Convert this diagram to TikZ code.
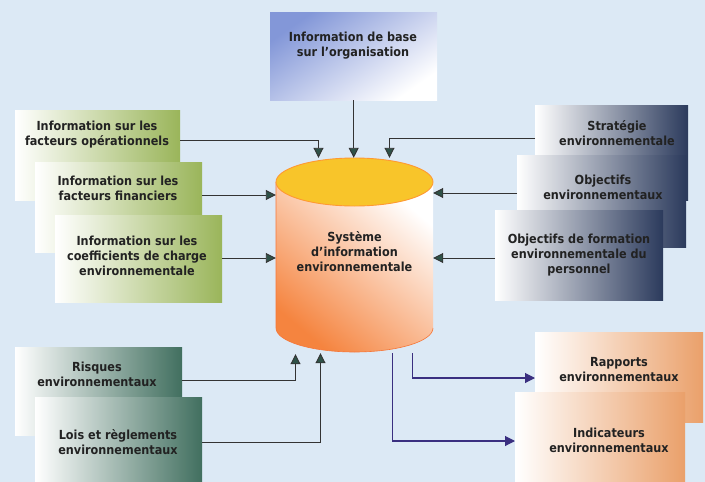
\documentclass[tikz,border=0pt]{standalone}
\usepackage{fontspec}
\setmainfont{DejaVu Sans Condensed}
\usetikzlibrary{arrows.meta,calc}
\definecolor{bgc}{HTML}{DCE9F5}
\definecolor{topc}{HTML}{8397D8}
\definecolor{grn}{HTML}{9AB55A}
\definecolor{nav}{HTML}{2B3A5C}
\definecolor{teal}{HTML}{416F5F}
\definecolor{pch}{HTML}{EAA06A}
\definecolor{tipg}{HTML}{2F5248}
\definecolor{tipn}{HTML}{3A2F80}
\definecolor{cyltop}{HTML}{F8C52A}
\definecolor{cylbody}{HTML}{F5843F}
\definecolor{txt}{HTML}{222222}
\tikzset{
  box/.style={anchor=north west, inner sep=0pt, minimum width=#1},
  gbox/.style={box=165, left color=white, middle color=grn!40, right color=grn},
  nbox/.style={box=165, left color=white, middle color=nav!20, right color=nav},
  tbox/.style={box=165, left color=white, middle color=teal!35, right color=teal},
  pbox/.style={box=165, left color=white, middle color=pch!35, right color=pch},
  lbl/.style={align=center, font=\bfseries\fontsize{12.5}{15}\selectfont, text=txt, inner sep=1pt},
  inarr/.style={draw=black!80, line width=0.9pt, -{Triangle[length=10pt,width=10pt,fill=tipg]}},
  outarr/.style={draw=tipn, line width=1.1pt, -{Triangle[length=10pt,width=10pt,fill=tipn]}},
}
\begin{document}
\begin{tikzpicture}[x=1pt,y=-1pt]
\fill[bgc] (0,0) rectangle (705,482);
\useasboundingbox (0,0) rectangle (705,482);

% top box
\node[box=167, minimum height=88, top color=topc, bottom color=white, shading angle=35] (base) at (270,12) {};
\node[lbl] (tbase) at (353,46) {Information de base\\sur l'organisation};

% left green boxes
\node[gbox, minimum height=90] (g1) at (15,110) {};
\node[lbl] (tg1) at (97,135) {Information sur les\\facteurs opérationnels};
\node[gbox, box=167, minimum height=90] (g2) at (35,162) {};
\node[lbl] (tg2) at (118,188) {Information sur les\\facteurs financiers};
\node[gbox, box=167, minimum height=87] (g3) at (55,215) {};
\node[lbl] (tg3) at (137,256) {Information sur les\\coefficients de charge\\environnementale};

% right navy boxes
\node[nbox, box=153, minimum height=95] (n1) at (535,105) {};
\node[lbl] (tn1) at (617,133) {Stratégie\\environnementale};
\node[nbox, box=169, minimum height=92] (n2) at (517,155) {};
\node[lbl] (tn2) at (603,187) {Objectifs\\environnementaux};
\node[nbox, box=168, minimum height=90] (n3) at (495,210) {};
\node[lbl] (tn3) at (579,255) {Objectifs de formation\\environnementale du\\personnel};

% bottom-left teal boxes
\node[tbox, box=167, minimum height=88] (r1) at (15,347) {};
\node[lbl] (tr1) at (97,374) {Risques\\environnementaux};
\node[tbox, box=167, minimum height=90] (r2) at (35,397) {};
\node[lbl] (tr2) at (118,442) {Lois et règlements\\environnementaux};

% bottom-right peach boxes
\node[pbox, box=168, minimum height=90] (p1) at (535,332) {};
\node[lbl] (tp1) at (619,370) {Rapports\\environnementaux};
\node[pbox, box=170, minimum height=95] (p2) at (515,392) {};
\node[lbl] (tp2) at (609,440) {Indicateurs\\environnementaux};

% cylinder
\node[inner sep=0pt, minimum width=157, minimum height=194] (sys) at (354.5,255) {};
\shade[bottom color=cylbody, top color=white, shading angle=-40]
  (276,182) -- (276,328) arc[start angle=180, end angle=0, x radius=78.5, y radius=24]
  -- (433,182) -- cycle;
\draw[cylbody!90!red, line width=0.6pt] (276,182) -- (276,328) arc[start angle=180, end angle=0, x radius=78.5, y radius=24];
\filldraw[fill=cyltop, draw=orange!80, line width=0.9pt] (354.5,182) ellipse[x radius=78.5, y radius=24];
\node[lbl] (tsys) at (354.5,252) {Système\\d'information\\environnementale};

% input arrows
\draw[inarr] (base.south) -- (base.south |- sys.north);
\draw[inarr] ($(g1.north east)+(0,30)$) -| ([xshift=-36]sys.north);
\draw[inarr] ($(n1.north west)+(0,33)$) -| ([xshift=35]sys.north);
\draw[inarr] ($(g2.north east)+(0,33)$) -- (sys.west |- 0,195);
\draw[inarr] ($(g3.north east)+(0,43)$) -- (sys.west |- 0,258);
\draw[inarr] ($(n2.north west)+(0,38)$) -- (sys.east |- 0,193);
\draw[inarr] ($(n3.north west)+(0,48)$) -- (sys.east |- 0,258);
\draw[inarr] ($(r1.north east)+(0,33)$) -| ([xshift=-59,yshift=-2]sys.south);
\draw[inarr] ($(r2.north east)+(0,45)$) -| ([xshift=-34,yshift=-1]sys.south);

% output arrows
\draw[outarr] ([xshift=58,yshift=-1]sys.south) |- ($(p1.north west)+(0,46)$);
\draw[outarr] ([xshift=38,yshift=-1]sys.south) |- ($(p2.north west)+(0,49)$);
\end{tikzpicture}
\end{document}
